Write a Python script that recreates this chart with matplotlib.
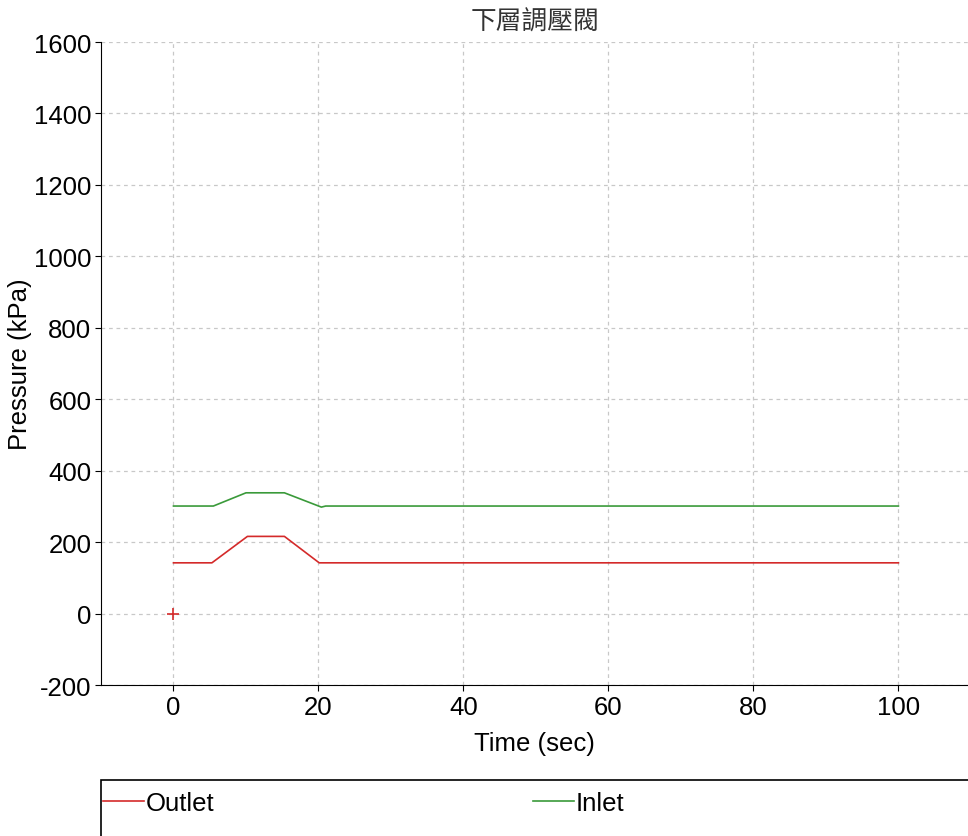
import matplotlib
matplotlib.use("Agg")
import matplotlib.pyplot as plt
from matplotlib.patches import Rectangle

plt.rcParams['font.family'] = ['Liberation Sans', 'Noto Sans CJK TC', 'DejaVu Sans']
plt.rcParams['axes.unicode_minus'] = False

title = "下層調壓閥"
time_outlet = [0, 5.3, 10.2, 15.3, 20.1, 100]
outlet = [142, 142, 216, 216, 142, 142]
time_inlet = [0, 5.5, 10.0, 15.3, 20.4, 21.0, 100]
inlet = [301, 301, 338, 338, 298, 301, 301]
marker_t = [0]
marker_p = [0]
x_ticks = [0, 20, 40, 60, 80, 100]
y_ticks = [-200, 0, 200, 400, 600, 800, 1000, 1200, 1400, 1600]

W, H = 968, 837
FS = 18.5
fig = plt.figure(figsize=(W / 100, H / 100), dpi=100)
ax = fig.add_axes([101 / W, 1 - 686 / H, (W - 101) / W, (686 - 43) / H])

l1, = ax.plot(time_outlet, outlet, color='#d42a2a', lw=1.2, label='Outlet')
l2, = ax.plot(time_inlet, inlet, color='#3a9a3a', lw=1.2, label='Inlet')
ax.plot(marker_t, marker_p, marker='+', color='#d42a2a', ms=8, mew=1.2, ls='none')

ax.set_xlim(-10, 109.6)
ax.set_ylim(-200, 1600)
ax.set_xticks(x_ticks)
ax.set_yticks(y_ticks)
ax.tick_params(labelsize=FS, direction='out', length=4, colors='black', pad=3)
ax.grid(True, color='#c8c8c8', ls=(0, (3, 3)), lw=0.9)
for s in ['top', 'right']:
    ax.spines[s].set_visible(False)
ax.set_xlabel('Time (sec)', fontsize=FS, labelpad=9)
ax.set_ylabel('Pressure (kPa)', fontsize=FS, va='center')
ax.yaxis.set_label_coords(-(101 - 20) / (W - 101), 0.5)
ax.set_title(title, fontsize=FS, color='#333333', pad=10)

# legend frame below the plot
fig.patches.append(Rectangle((101 / W, -0.01), 1, (837 - 781) / H + 0.01,
                             transform=fig.transFigure,
                             fill=False, edgecolor='black', lw=1.2))
for line, px in [(l1, 103), (l2, 533)]:
    fig.legend(handles=[line], loc='upper left', bbox_to_anchor=(px / W, 1 - 792 / H),
               frameon=False, fontsize=FS, handlelength=1.6, handletextpad=0.05,
               borderaxespad=0, borderpad=0)

fig.savefig('out.png', dpi=100)
